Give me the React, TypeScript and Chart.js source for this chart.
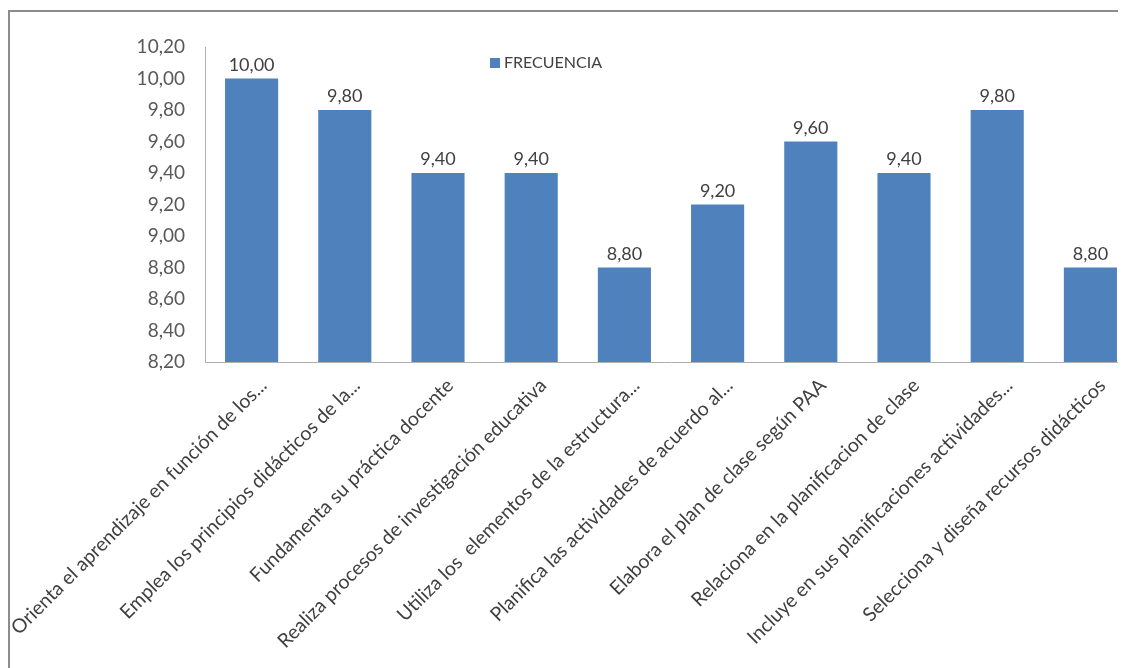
import React, { useEffect, useRef } from "react";
import { Chart, registerables } from "chart.js";

Chart.register(...registerables);

const categories: string[] = [
  "Orienta el aprendizaje en función de los...",
  "Emplea los principios didácticos de la...",
  "Fundamenta su práctica docente",
  "Realiza procesos de investigación educativa",
  "Utiliza los  elementos de la estructura...",
  "Planifica las actividades de acuerdo al...",
  "Elabora el plan de clase según PAA",
  "Relaciona en la planificacion de clase",
  "Incluye en sus planificaciones actividades...",
  "Selecciona y diseña recursos didácticos",
];

const frecuencia: number[] = [10.0, 9.8, 9.4, 9.4, 8.8, 9.2, 9.6, 9.4, 9.8, 8.8];

const seriesName = "FRECUENCIA";
const yMin = 8.2;
const yMax = 10.2;
const yStep = 0.2;

const FONT = "Lato, 'Open Sans', sans-serif";
const BAR_COLOR = "#4f81bd";
const TEXT_COLOR = "#404040";

const fmt = (v: number) => Number(v).toFixed(2).replace(".", ",");

const valueLabels = {
  id: "valueLabels",
  afterDatasetsDraw(chart: any) {
    const ctx = chart.ctx;
    const meta = chart.getDatasetMeta(0);
    ctx.save();
    ctx.font = `18px ${FONT}`;
    ctx.fillStyle = TEXT_COLOR;
    ctx.textAlign = "center";
    ctx.textBaseline = "alphabetic";
    meta.data.forEach((el: any, i: number) => {
      const v = chart.data.datasets[0].data[i];
      ctx.fillText(fmt(v), el.x, el.y - 8);
    });
    ctx.restore();
  },
};

const innerLegend = {
  id: "innerLegend",
  afterDraw(chart: any) {
    const ctx = chart.ctx;
    const area = chart.chartArea;
    const x = area.left + 285;
    const y = area.top + 16;
    ctx.save();
    ctx.fillStyle = chart.data.datasets[0].backgroundColor;
    ctx.fillRect(x, y - 5, 10, 10);
    ctx.font = `16px ${FONT}`;
    ctx.fillStyle = TEXT_COLOR;
    ctx.textAlign = "left";
    ctx.textBaseline = "middle";
    ctx.fillText(chart.data.datasets[0].label, x + 14, y);
    ctx.restore();
  },
};

export default function App() {
  const ref = useRef<HTMLCanvasElement | null>(null);

  useEffect(() => {
    document.documentElement.style.overflow = "hidden";
    document.body.style.overflow = "hidden";
    if (!ref.current) return;
    const chart = new Chart(ref.current, {
      type: "bar",
      data: {
        labels: categories,
        datasets: [
          {
            label: seriesName,
            data: frecuencia,
            backgroundColor: BAR_COLOR,
            borderWidth: 0,
            categoryPercentage: 1,
            barPercentage: 0.57,
          },
        ],
      },
      options: {
        responsive: false,
        animation: false,
        layout: { padding: { top: 39, right: 11, left: 0, bottom: 0 } },
        plugins: {
          legend: { display: false },
          tooltip: { enabled: false },
        },
        scales: {
          x: {
            grid: { display: false, drawTicks: false },
            border: { display: true, color: "#b0b0b0", width: 1 },
            ticks: {
              autoSkip: false,
              minRotation: 45,
              maxRotation: 45,
              padding: 12,
              labelOffset: 12,
              color: TEXT_COLOR,
              font: { family: FONT, size: 19.5 },
            },
            afterFit(scale: any) {
              scale.height = 306;
              scale.paddingLeft = 0;
              scale.paddingRight = 0;
            },
          },
          y: {
            min: yMin,
            max: yMax,
            grid: { display: false, drawTicks: false },
            border: { display: true, color: "#b0b0b0", width: 1 },
            ticks: {
              stepSize: yStep,
              padding: 20,
              color: "#595959",
              font: { family: FONT, size: 19 },
              callback: (v: any) => fmt(Number(v)),
            },
            afterFit(scale: any) {
              scale.width = 197;
              scale.paddingTop = 0;
              scale.paddingBottom = 0;
            },
          },
        },
      },
      plugins: [valueLabels, innerLegend],
    });
    return () => chart.destroy();
  }, []);

  return (
    <div style={{ position: "relative", width: 1140, height: 660 }}>
      <div
        style={{
          position: "absolute",
          left: 0,
          top: 2,
          width: 1140,
          height: 2,
          background: "#8c8c8c",
        }}
      />
      <div
        style={{
          position: "absolute",
          left: 0,
          top: 2,
          width: 2,
          height: 660,
          background: "#8c8c8c",
        }}
      />
      <canvas
        ref={ref}
        width={1140}
        height={660}
        style={{ position: "absolute", left: 0, top: 0, width: 1140, height: 660 }}
      />
    </div>
  );
}
